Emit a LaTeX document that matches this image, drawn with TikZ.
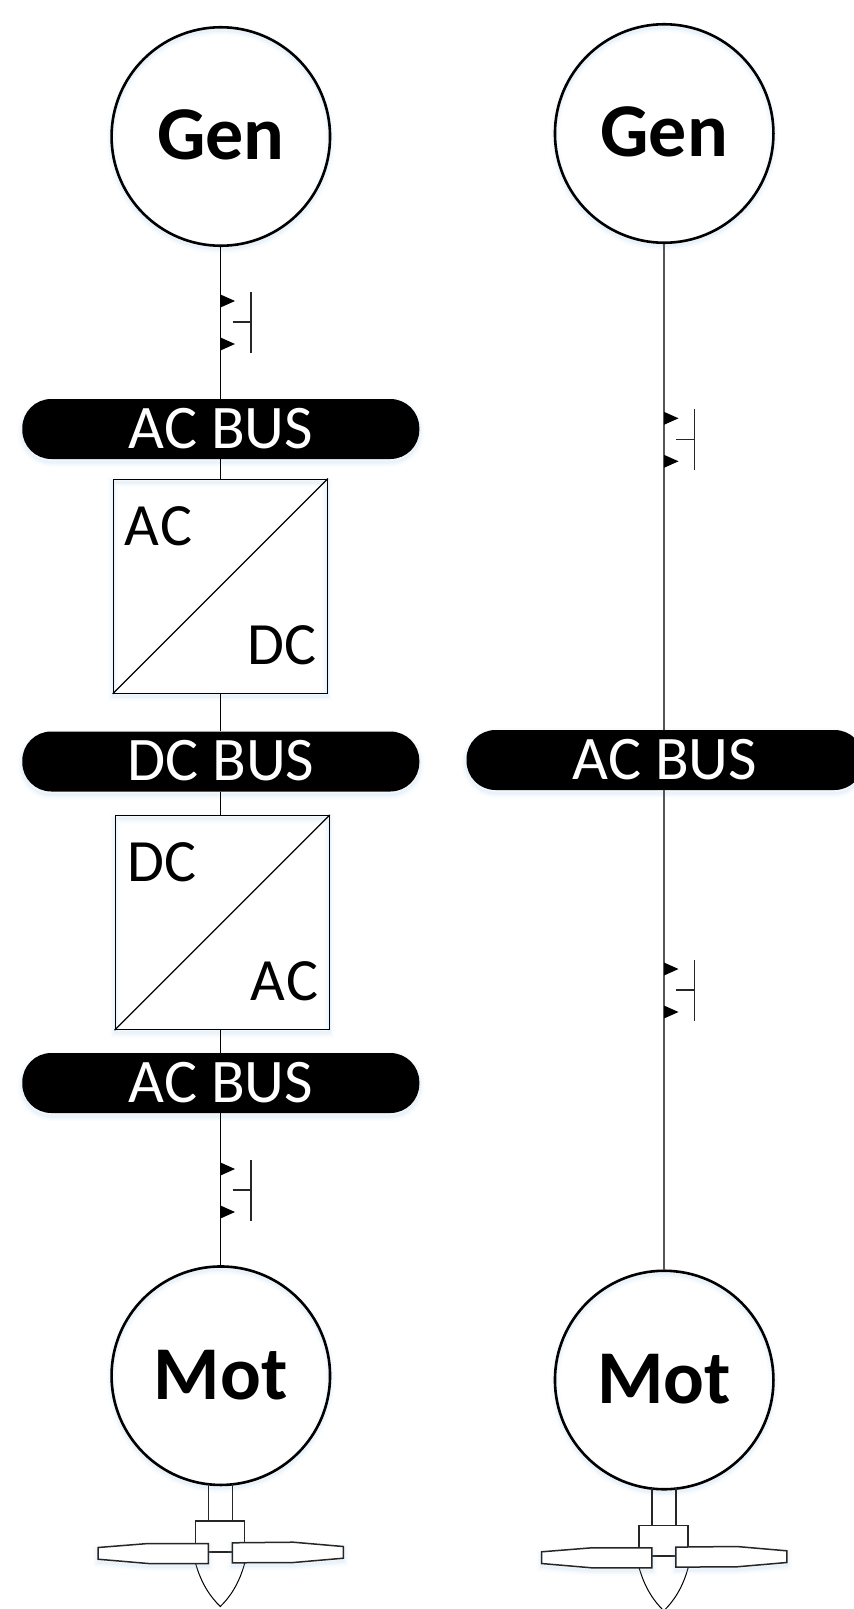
\documentclass[tikz,border=0pt]{standalone}
\usepackage{fontspec}
\setmainfont{Carlito}
\definecolor{glow}{HTML}{9DC3E6}
\definecolor{wireR}{HTML}{555555}
\tikzset{
  softglow/.style={
    preaction={draw=glow,draw opacity=.05,line width=10pt,transform canvas={yshift=-3pt}},
    preaction={draw=glow,draw opacity=.07,line width=6pt,transform canvas={yshift=-3pt}},
    preaction={draw=glow,draw opacity=.10,line width=3pt,transform canvas={yshift=-3pt}}},
  machine/.style={circle,draw=black,line width=2.6pt,minimum size=218.5pt,inner sep=0pt,softglow,font=\fontsize{76}{76}\selectfont\bfseries},
  genm/.style={machine,text height=50pt,text depth=4.4pt},
  motm/.style={machine,text height=49pt,text depth=1.5pt},
  bus/.style={rectangle,rounded corners=29pt,fill=black,text=white,minimum width=397pt,minimum height=60pt,inner sep=0pt,softglow,font=\fontsize{62}{62}\selectfont,text height=40pt,text depth=1.4pt},
  conv/.style={rectangle,draw=black,line width=1.3pt,minimum size=214pt,inner sep=0pt,softglow},
  convtext/.style={inner sep=0pt,font=\fontsize{60}{60}\selectfont},
  wireL/.style={draw=black,line width=1.2pt},
  wireRt/.style={draw=wireR,line width=1.6pt},
  thinline/.style={draw=black!85,line width=1.5pt},
  sw/.pic={
    \fill[black] (0,-6.5) -- (14.5,0) -- (0,6.5) -- cycle;
    \fill[black] (0,36.5) -- (14.5,43) -- (0,49.5) -- cycle;
    \draw[thinline] (30.5,-9) -- (30.5,52);
    \draw[thinline] (12,21) -- (30.5,21);
  },
  prop/.pic={
    \draw[thinline] (-12,0) -- (-12,37) (12,0) -- (12,37);
    \draw[thinline,line join=miter] (-24.8,60) -- (-24.8,37.2) -- (24.2,37.2) -- (24.2,60);
    \draw[black,line width=1pt] (-24.8,79.8) .. controls (-19,100) and (-10,113) .. (-.2,122.5) .. controls (9.5,113) and (18.5,100) .. (24.2,79.2);
    \draw[thinline] (-12,67.8) -- (12,67.8);
    \draw[thinline,fill=white,softglow] (-12.2,59.5) -- (-72.2,59.5) -- (-122.5,63.5) -- (-122.5,75.2) -- (-72.2,79.5) -- (-12.2,79.5) -- cycle;
    \draw[thinline,fill=white,softglow] (11.8,58.8) -- (72.8,58.2) -- (122.8,62.5) -- (122.8,74.2) -- (72.8,78.5) -- (11.8,78.8) -- cycle;
  }
}
\begin{document}
\begin{tikzpicture}[x=1pt,y=-1pt]
\useasboundingbox (0,0) rectangle (854,1609);
\clip (0,0) rectangle (854,1609);

% left column
\node[genm] (genL) at (220.8,136.5) {Gen};
\node[bus] (acL1) at (220.8,429) {AC BUS};
\node[conv] (convA) at (220.3,586.2) {};
\node[bus] (dcL) at (220.8,761.5) {DC BUS};
\node[conv] (convB) at (222.2,922.5) {};
\node[bus] (acL2) at (220.8,1083) {AC BUS};
\node[motm] (motL) at (220.8,1375.7) {Mot};

\draw[draw=black,line width=1.2pt] (convA.south west) -- (convA.north east);
\draw[draw=black,line width=1.2pt] (convB.south west) -- (convB.north east);
\node[convtext,anchor=base west] (tA1) at (124,545) {A\kern1.5pt C};
\node[convtext,anchor=base east] (tA2) at (317,664) {DC};
\node[convtext,anchor=base west] (tB1) at (127.5,881) {DC};
\node[convtext,anchor=base east] (tB2) at (318.5,1000.7) {A\kern1.5pt C};

\draw[wireL] (genL.south) -- (acL1.north -| genL.south);
\draw[wireL] (acL1.south -| genL.south) -- (convA.north -| genL.south);
\draw[wireL] (convA.south -| genL.south) -- (dcL.north -| genL.south);
\draw[wireL] (dcL.south -| genL.south) -- (convB.north -| genL.south);
\draw[wireL] (convB.south -| genL.south) -- (acL2.north -| genL.south);
\draw[wireL] (acL2.south -| genL.south) -- (motL.north);
\pic at (220.5,301) {sw};
\pic at (220.5,1169) {sw};
\pic at (220.5,1484) {prop};

% right column
\node[genm] (genR) at (664.2,133.5) {Gen};
\node[bus] (acR) at (665,760) {AC BUS};
\node[motm] (motR) at (664.2,1380) {Mot};
\draw[wireRt] (genR.south) -- (acR.north -| genR.south);
\draw[wireRt] (acR.south -| genR.south) -- (motR.north);
\pic at (664,418.3) {sw};
\pic at (664,969) {sw};
\pic at (664,1488.3) {prop};
\end{tikzpicture}
\end{document}
